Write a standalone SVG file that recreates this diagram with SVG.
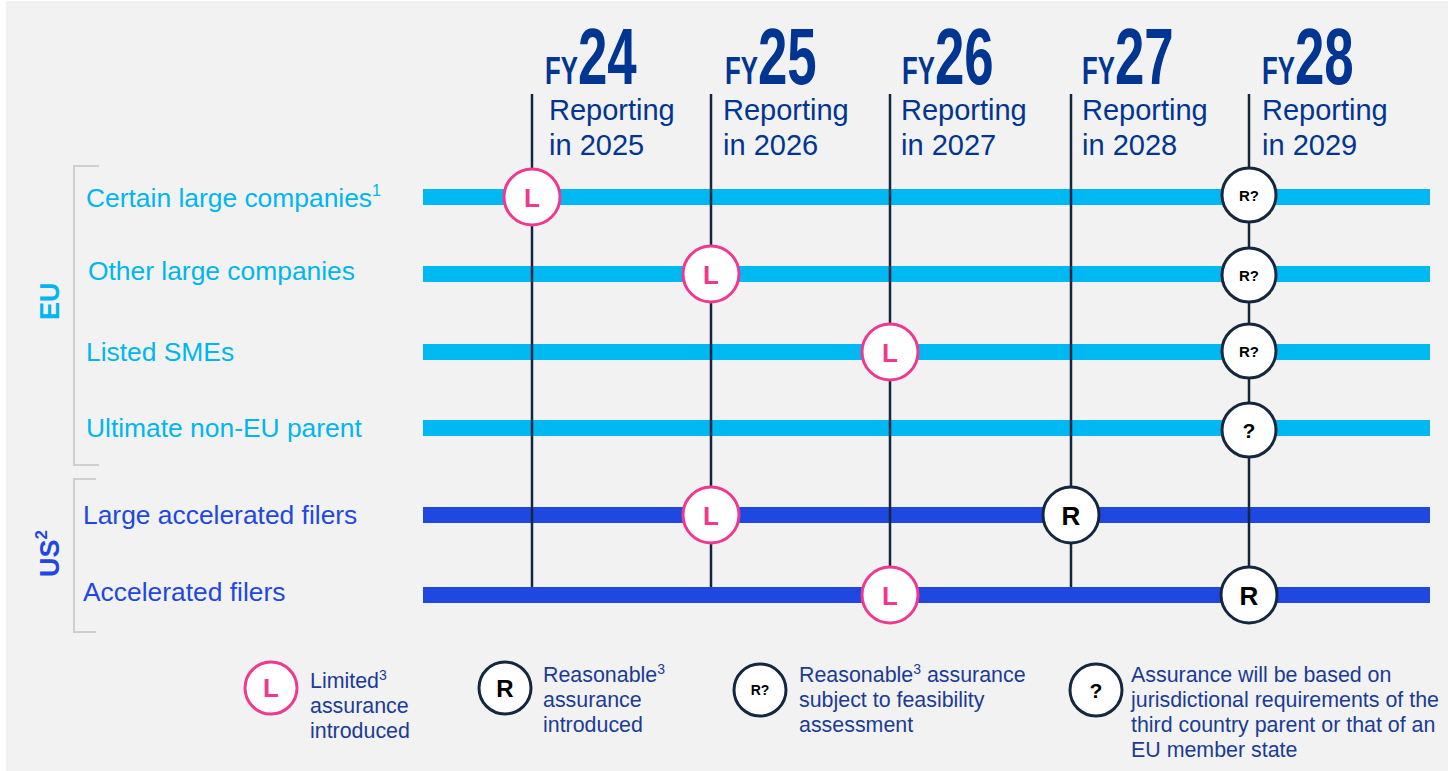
<svg xmlns="http://www.w3.org/2000/svg" width="1448" height="771" viewBox="0 0 1448 771">
<style>
.bg{fill:#f2f2f2}
.fy{font-family:"Liberation Sans",Arial,sans-serif;font-weight:bold;fill:#003591}
.rep{font-family:"Liberation Sans",Arial,sans-serif;font-size:29px;fill:#003591}
.lbl{font-family:"Liberation Sans",Arial,sans-serif;font-size:26.4px}
.eu{fill:#00b6f0}
.us{fill:#1f48e0}
.grp{font-family:"Liberation Sans",Arial,sans-serif;font-size:27px;font-weight:bold}
.bar-eu{fill:#00b8f2}
.bar-us{fill:#1f48e0}
.vl{stroke:#14273f;stroke-width:2.5;fill:none}
.br{stroke:#cfcfcf;stroke-width:2;fill:none}
.cl{fill:#fff;stroke:#f0388f;stroke-width:3}
.cd{fill:#fff;stroke:#14273f;stroke-width:3}
.tl{font-family:"Liberation Sans",Arial,sans-serif;font-weight:bold;fill:#f0388f;font-size:26px;text-anchor:middle}
.td{font-family:"Liberation Sans",Arial,sans-serif;font-weight:bold;fill:#000;text-anchor:middle}
.leg{font-family:"Liberation Sans",Arial,sans-serif;font-size:21.4px;fill:#1a3c96}
</style>
<rect class="bg" x="6" y="1" width="1442" height="770"/>

<g id="headers">
<text class="fy" transform="matrix(0.66 0 0 1 545 83.5)"><tspan font-size="39">FY</tspan><tspan font-size="80">24</tspan></text>
<text class="fy" transform="matrix(0.66 0 0 1 725 83.5)"><tspan font-size="39">FY</tspan><tspan font-size="80">25</tspan></text>
<text class="fy" transform="matrix(0.66 0 0 1 902 83.5)"><tspan font-size="39">FY</tspan><tspan font-size="80">26</tspan></text>
<text class="fy" transform="matrix(0.66 0 0 1 1082 83.5)"><tspan font-size="39">FY</tspan><tspan font-size="80">27</tspan></text>
<text class="fy" transform="matrix(0.66 0 0 1 1262 83.5)"><tspan font-size="39">FY</tspan><tspan font-size="80">28</tspan></text>
<text class="rep" x="549" y="120">Reporting</text><text class="rep" x="549" y="155">in 2025</text>
<text class="rep" x="723" y="120">Reporting</text><text class="rep" x="723" y="155">in 2026</text>
<text class="rep" x="901" y="120">Reporting</text><text class="rep" x="901" y="155">in 2027</text>
<text class="rep" x="1082" y="120">Reporting</text><text class="rep" x="1082" y="155">in 2028</text>
<text class="rep" x="1262" y="120">Reporting</text><text class="rep" x="1262" y="155">in 2029</text>
</g>

<g id="groups">
<path class="br" d="M99,166 H74 V465 H99"/>
<path class="br" d="M96,479 H74 V632 H96"/>
<text class="grp eu" transform="translate(59,320) rotate(-90)">EU</text>
<text class="grp us" transform="translate(59,577) rotate(-90)">US<tspan font-size="17" dy="-12">2</tspan></text>
</g>

<g id="row-labels">
<text class="lbl eu" x="86" y="207">Certain large companies<tspan font-size="16" dy="-11">1</tspan></text>
<text class="lbl eu" x="88" y="280">Other large companies</text>
<text class="lbl eu" x="86" y="361">Listed SMEs</text>
<text class="lbl eu" x="86" y="437">Ultimate non-EU parent</text>
<text class="lbl us" x="83" y="524">Large accelerated filers</text>
<text class="lbl us" x="83" y="601">Accelerated filers</text>
</g>

<g id="bars">
<rect class="bar-eu" x="423" y="189" width="1007" height="16"/>
<rect class="bar-eu" x="423" y="266" width="1007" height="16"/>
<rect class="bar-eu" x="423" y="344" width="1007" height="16"/>
<rect class="bar-eu" x="423" y="420" width="1007" height="16"/>
<rect class="bar-us" x="423" y="507" width="1007" height="16"/>
<rect class="bar-us" x="423" y="587" width="1007" height="16"/>
</g>

<g id="connectors">
<line class="vl" x1="532" y1="94" x2="532" y2="587"/>
<line class="vl" x1="711" y1="94" x2="711" y2="587"/>
<line class="vl" x1="890" y1="94" x2="890" y2="587"/>
<line class="vl" x1="1071" y1="94" x2="1071" y2="587"/>
<line class="vl" x1="1249" y1="94" x2="1249" y2="587"/>
</g>

<g id="markers">
<g id="m-clc"><circle class="cl" cx="532" cy="197" r="28"/><text class="tl" x="532" y="207">L</text></g>
<g id="m-olc"><circle class="cl" cx="711" cy="274" r="28"/><text class="tl" x="711" y="284">L</text></g>
<g id="m-sme"><circle class="cl" cx="890" cy="352" r="28"/><text class="tl" x="890" y="362">L</text></g>
<g id="m-laf"><circle class="cl" cx="711" cy="515" r="28"/><text class="tl" x="711" y="525">L</text></g>
<g id="m-af"><circle class="cl" cx="890" cy="595" r="28"/><text class="tl" x="890" y="605">L</text></g>
<g id="m-clc-r"><circle class="cd" cx="1249" cy="195" r="27"/><text class="td" x="1249" y="200.5" font-size="15">R?</text></g>
<g id="m-olc-r"><circle class="cd" cx="1249" cy="275" r="27"/><text class="td" x="1249" y="280.5" font-size="15">R?</text></g>
<g id="m-sme-r"><circle class="cd" cx="1249" cy="351" r="27"/><text class="td" x="1249" y="356.5" font-size="15">R?</text></g>
<g id="m-nonEU"><circle class="cd" cx="1249" cy="430" r="27"/><text class="td" x="1249" y="438" font-size="21">?</text></g>
<g id="m-laf-r"><circle class="cd" cx="1071" cy="515" r="28"/><text class="td" x="1071" y="524.5" font-size="26">R</text></g>
<g id="m-af-r"><circle class="cd" cx="1249" cy="595" r="28"/><text class="td" x="1249" y="604.5" font-size="26">R</text></g>
</g>

<g id="legend">
<g id="leg-L"><circle class="cl" cx="271" cy="688" r="26"/><text class="tl" x="271" y="697" font-size="24">L</text>
<text class="leg" x="310" y="688">Limited<tspan font-size="14" dy="-8">3</tspan></text>
<text class="leg" x="310" y="713">assurance</text>
<text class="leg" x="310" y="738">introduced</text></g>
<g id="leg-R"><circle class="cd" cx="505" cy="688" r="26"/><text class="td" x="505" y="697" font-size="24">R</text>
<text class="leg" x="543" y="682">Reasonable<tspan font-size="14" dy="-8">3</tspan></text>
<text class="leg" x="543" y="707">assurance</text>
<text class="leg" x="543" y="732">introduced</text></g>
<g id="leg-Rq"><circle class="cd" cx="760" cy="690" r="26"/><text class="td" x="760" y="695" font-size="14">R?</text>
<text class="leg" x="799" y="682">Reasonable<tspan font-size="14" dy="-8">3</tspan><tspan dy="8"> assurance</tspan></text>
<text class="leg" x="799" y="707">subject to feasibility</text>
<text class="leg" x="799" y="732">assessment</text></g>
<g id="leg-q"><circle class="cd" cx="1096" cy="690" r="26"/><text class="td" x="1096" y="698" font-size="21">?</text>
<text class="leg" x="1131" y="682">Assurance will be based on</text>
<text class="leg" x="1131" y="707">jurisdictional requirements of the</text>
<text class="leg" x="1131" y="732">third country parent or that of an</text>
<text class="leg" x="1131" y="757">EU member state</text></g>
</g>
</svg>
